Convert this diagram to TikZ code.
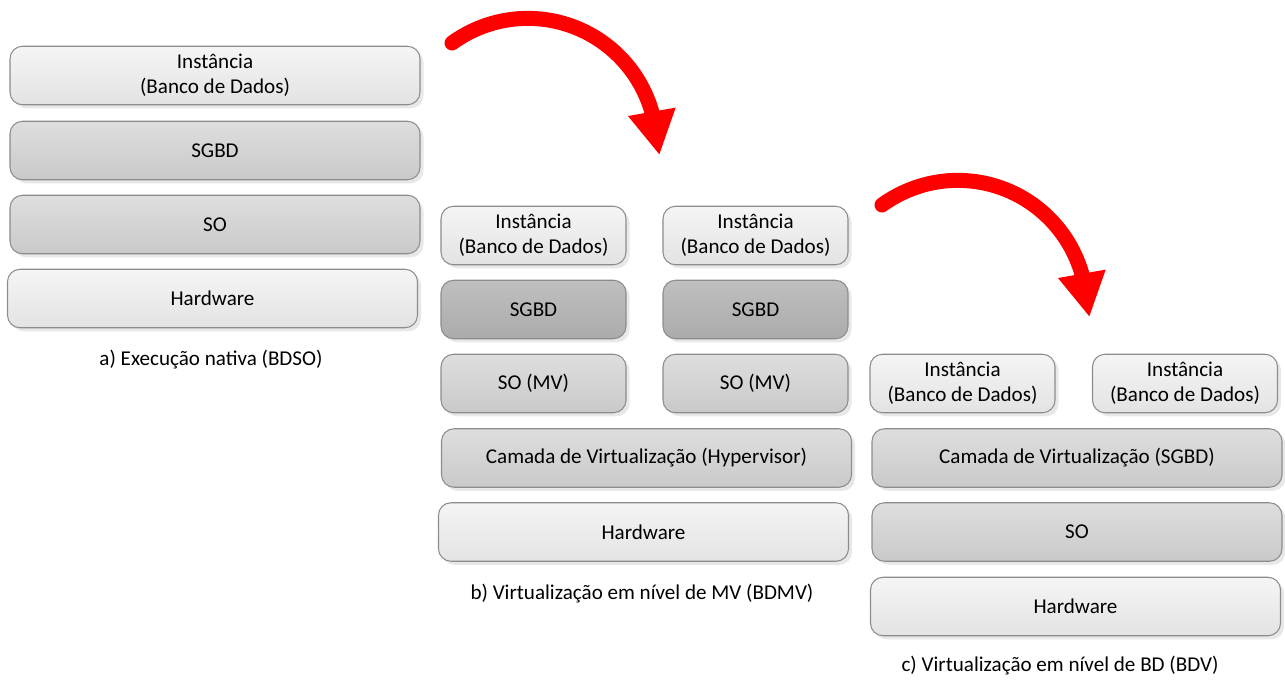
\documentclass[tikz,border=0pt]{standalone}
\usepackage{fontspec}
\setmainfont{Carlito}
\usetikzlibrary{arrows.meta,shadows}

\begin{document}
\begin{tikzpicture}[font = \fontsize{12}{14.2}\selectfont,
                        layer/.style = {rounded corners = 0.25cm, draw = black!45, line width = 0.6pt,
                                        align = center, inner sep = 0pt,
                                        drop shadow = {opacity = 0.18, shadow xshift = 2pt, shadow yshift = -2pt}},
                        light/.style = {layer, top color = black!4, bottom color = black!11},
                        medium/.style = {layer, top color = black!13, bottom color = black!21},
                        dark/.style = {layer, top color = black!25, bottom color = black!33},
                        wide/.style = {minimum width = 8.2cm, minimum height = 1.17cm},
                        narrow/.style = {minimum width = 3.7cm, minimum height = 1.17cm},
                        jump/.style = {red, line width = 0.3cm, line cap = round,
                                       -{Triangle[width = 0.9cm, length = 0.88cm]}}]
    \useasboundingbox (0, 0) rectangle (25.7, -13.62);
    % a) execucao nativa
    \node [light, wide] (instA) at (4.3, -1.51){Instância\\(Banco de Dados)};
    \node [medium, wide] (sgbdA) at (4.3, -3.01){SGBD};
    \node [medium, wide] (soA) at (4.3, -4.49){SO};
    \node [light, wide] (hwA) at (4.25, -5.97){Hardware};
    \node (capA) at (4.22, -7.2){a) Execução nativa (BDSO)};
    % b) virtualizacao em nivel de MV
    \node [light, narrow] (instB1) at (10.67, -4.71){Instância\\(Banco de Dados)};
    \node [light, narrow] (instB2) at (15.11, -4.71){Instância\\(Banco de Dados)};
    \node [dark, narrow] (sgbdB1) at (10.67, -6.19){SGBD};
    \node [dark, narrow] (sgbdB2) at (15.11, -6.19){SGBD};
    \node [medium, narrow] (soB1) at (10.67, -7.67){SO (MV)};
    \node [medium, narrow] (soB2) at (15.11, -7.67){SO (MV)};
    \node [medium, wide] (hypB) at (12.93, -9.16){Camada de Virtualização (Hypervisor)};
    \node [light, wide] (hwB) at (12.87, -10.64){Hardware};
    \node (capB) at (12.84, -11.88){b) Virtualização em nível de MV (BDMV)};
    % c) virtualizacao em nivel de BD
    \node [light, narrow] (instC1) at (19.25, -7.67){Instância\\(Banco de Dados)};
    \node [light, narrow] (instC2) at (23.70, -7.67){Instância\\(Banco de Dados)};
    \node [medium, wide] (camC) at (21.54, -9.16){Camada de Virtualização (SGBD)};
    \node [medium, wide] (soC) at (21.54, -10.64){SO};
    \node [light, wide] (hwC) at (21.51, -12.13){Hardware};
    \node (capC) at (21.2, -13.32){c) Virtualização em nível de BD (BDV)};
    % setas
    \coordinate (s1) at (9.04, -0.86);
    \coordinate (s2) at (17.64, -4.10);
    \draw [jump] (s1) arc [start angle = 126, end angle = 16, radius = 2.58cm] -- ++(-80:0.88cm);
    \draw [jump] (s2) arc [start angle = 126, end angle = 16, radius = 2.58cm] -- ++(-80:0.88cm);
\end{tikzpicture}
\end{document}
